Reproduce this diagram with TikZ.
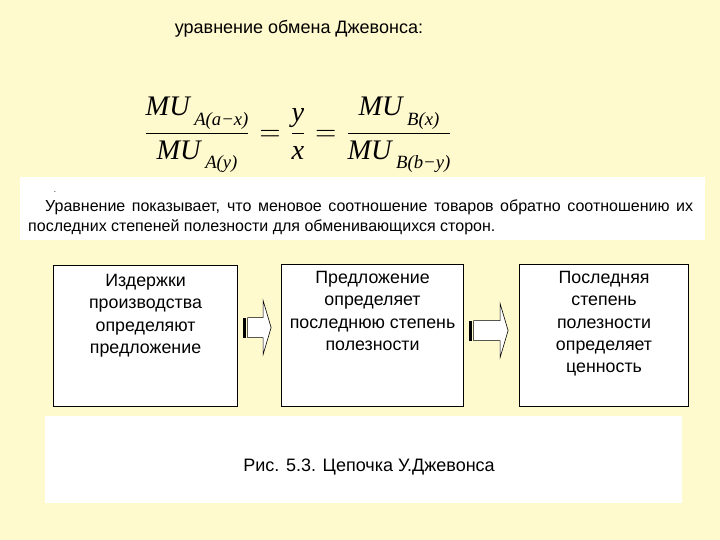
\documentclass[tikz,border=0pt]{standalone}
\usepackage{amsmath}
\usepackage{fontspec}
\setmainfont{Liberation Sans}
\newfontfamily\timesfam{Liberation Serif}
\newcommand\eqit[1]{\text{\fontsize{10.3}{12}\timesfam\itshape #1}}
\newcommand\subit[1]{\,\raisebox{-3.5pt}{\fontsize{6.8}{8}\timesfam\itshape #1}}
\usetikzlibrary{positioning,calc}
\definecolor{paper}{RGB}{255,249,206}
\tikzset{
  panel/.style={fill=white,draw=none},
  box/.style={draw=black,fill=white,line width=1.1pt,inner sep=0pt,anchor=north west},
  boxtext/.style={font=\fontsize{17.8}{22.3}\selectfont,align=center,inner sep=0pt},
  bigtext/.style={font=\fontsize{18}{22}\selectfont,inner sep=0pt},
  % striped block arrow
  pics/stripe arrow/.style={code={
    \fill[black] (0,-10) rectangle (3,10);
    \draw[fill=white,line width=0.6pt] (4.5,-10) -- (#1-8,-10) -- (#1-8,-27) -- (#1,0)
      -- (#1-8,27) -- (#1-8,10) -- (4.5,10) -- cycle;
  }},
  pics/stripe arrow/.default=30,
}
\begin{document}
\begin{tikzpicture}[x=1pt,y=-1pt]
  \fill[paper] (0,0) rectangle (720,540);
  \useasboundingbox (0,0) rectangle (720,540);
  \node[bigtext] (title) at (299,29) {уравнение обмена Джевонса:};
  \node[scale=2.75] (eq) at (298,135)
    {$\dfrac{\eqit{MU}\subit{A(a−x)}}{\eqit{MU}\subit{A(y)}}=\dfrac{\eqit{y}}{\eqit{x}}
      =\dfrac{\eqit{MU}\subit{B(x)}}{\eqit{MU}\subit{B(b−y)}}$};
  % explanation
  \fill[panel] (20,177) rectangle (705,240);
  \node[font=\footnotesize] (dot) at (55,192) {.};
  \node[anchor=north west,inner sep=0pt,text width=665pt,align=justify,
    font=\fontsize{16}{20}\selectfont] (note) at (28,200)
    {\hspace*{17pt}Уравнение показывает, что меновое соотношение товаров обратно соотношению их\linebreak
     последних степеней полезности для обменивающихся сторон.};
  % chain
  \node[box,minimum width=184pt,minimum height=141pt] (cost) at (53,265) {};
  \node[box,minimum width=182pt,minimum height=142pt] (supply) at (281,264) {};
  \node[box,minimum width=169pt,minimum height=142pt] (value) at (519,264) {};
  \node[boxtext,below=9pt of cost.north] (costtxt) {Издержки\\производства\\определяют\\предложение};
  \node[boxtext,below=7pt of supply.north] (supplytxt) {Предложение\\определяет\\последнюю степень\\полезности};
  \node[boxtext,below=7pt of value.north] (valuetxt) {Последняя\\степень\\полезности\\определяет\\ценность};
  \pic at ($(cost.east)+(5,-8.5)$) {stripe arrow=28};
  \pic at ($(supply.east)+(5,-5)$) {stripe arrow=39};
  % caption
  \fill[panel] (45,416) rectangle (682,503);
  \node[bigtext] (caption) at (369,467) {Рис. 5.3. Цепочка У.Джевонса};
\end{tikzpicture}
\end{document}
